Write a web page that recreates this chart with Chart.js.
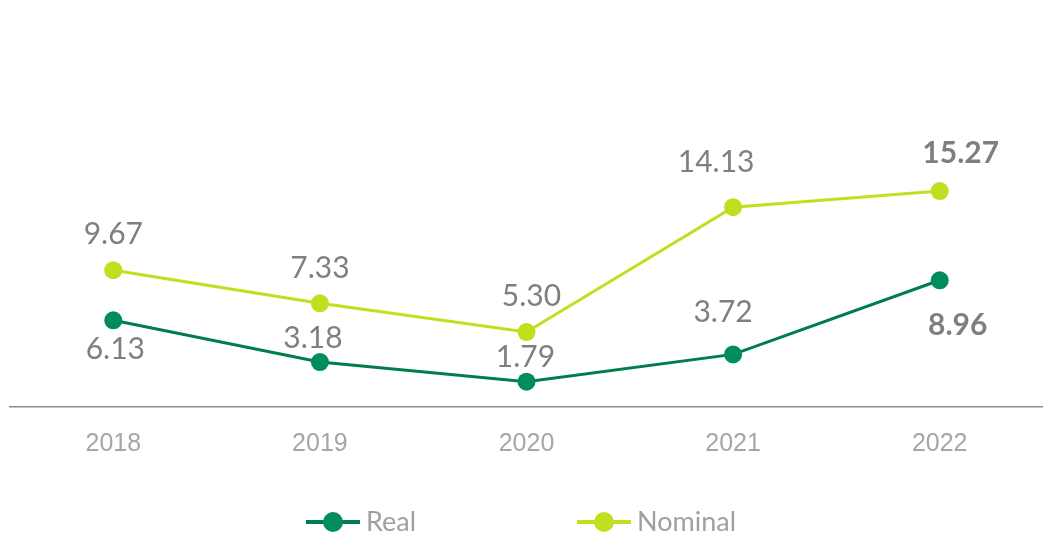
<!DOCTYPE html>
<html>
<head>
<meta charset="utf-8">
<script src="https://cdn.jsdelivr.net/npm/chart.js@4.4.0/dist/chart.umd.min.js"></script>
<style>
  html, body { margin: 0; padding: 0; background: #fff; }
  #wrap { width: 1043px; height: 535px; }
</style>
</head>
<body>
<div id="wrap"><canvas id="growth-chart" width="1043" height="535"></canvas></div>
<script>
const years = ['2018', '2019', '2020', '2021', '2022'];
const realValues = [6.13, 3.18, 1.79, 3.72, 8.96];
const nominalValues = [9.67, 7.33, 5.30, 14.13, 15.27];

// label offsets from each point (dx, dy), styling only
const realLabelShift = [[2, 29], [-7, -24], [-1, -24], [-10, -42], [18, 45]];
const nominalLabelShift = [[0, -36], [0, -35], [5, -36], [-17, -45], [21, -38]];

const REAL_COLOR = '#007d48';
const REAL_POINT = '#008c5c';
const NOMINAL_COLOR = '#bfe01f';
const LABEL_FONT = 'Lato, "Open Sans", sans-serif';

const valueLabels = {
  id: 'valueLabels',
  afterDatasetsDraw(chart) {
    const ctx = chart.ctx;
    chart.data.datasets.forEach((ds, i) => {
      const meta = chart.getDatasetMeta(i);
      meta.data.forEach((pt, j) => {
        const shift = ds.labelShift[j];
        const last = j === ds.data.length - 1;
        ctx.save();
        ctx.font = (last ? 'bold ' : '') + '30px ' + LABEL_FONT;
        ctx.fillStyle = '#7f7f7f';
        ctx.textAlign = 'center';
        ctx.textBaseline = 'middle';
        ctx.fillText(ds.data[j].toFixed(2), pt.x + shift[0], pt.y + shift[1]);
        ctx.restore();
      });
    });
  }
};

const lineLegend = {
  id: 'lineLegend',
  afterDraw(chart) {
    const ctx = chart.ctx;
    const y = 522;
    const starts = [306, 577];
    chart.data.datasets.forEach((ds, i) => {
      const x = starts[i];
      ctx.save();
      ctx.strokeStyle = ds.borderColor;
      ctx.lineWidth = 4;
      ctx.beginPath();
      ctx.moveTo(x, y);
      ctx.lineTo(x + 54, y);
      ctx.stroke();
      ctx.fillStyle = ds.pointBackgroundColor;
      ctx.beginPath();
      ctx.arc(x + 27, y, 10, 0, Math.PI * 2);
      ctx.fill();
      ctx.font = '27px ' + LABEL_FONT;
      ctx.fillStyle = '#a0a0a0';
      ctx.textBaseline = 'middle';
      ctx.fillText(ds.label, x + 60, y);
      ctx.restore();
    });
  }
};

const ctx = document.getElementById('growth-chart').getContext('2d');
new Chart(ctx, {
  type: 'line',
  data: {
    labels: years,
    datasets: [
      {
        label: 'Real',
        data: realValues,
        borderColor: REAL_COLOR,
        backgroundColor: REAL_POINT,
        pointBackgroundColor: REAL_POINT,
        pointBorderWidth: 0,
        pointRadius: 9,
        borderWidth: 3,
        labelShift: realLabelShift
      },
      {
        label: 'Nominal',
        data: nominalValues,
        borderColor: NOMINAL_COLOR,
        backgroundColor: NOMINAL_COLOR,
        pointBackgroundColor: NOMINAL_COLOR,
        pointBorderWidth: 0,
        pointRadius: 9,
        borderWidth: 3,
        labelShift: nominalLabelShift
      }
    ]
  },
  options: {
    responsive: false,
    animation: false,
    layout: { autoPadding: false, padding: { top: 11, left: 10, right: -4, bottom: 54 } },
    plugins: {
      legend: { display: false },
      tooltip: { enabled: false }
    },
    scales: {
      x: {
        offset: true,
        grid: { display: false, drawTicks: false },
        border: { display: true, color: '#8c8c8c', width: 1.5 },
        ticks: {
          padding: 22,
          color: '#a6a6a6',
          font: { family: '"Liberation Sans Narrow", "Arial Narrow", sans-serif', size: 25 }
        }
      },
      y: {
        display: false,
        min: 0,
        max: 28
      }
    }
  },
  plugins: [valueLabels, lineLegend]
});
</script>
</body>
</html>
